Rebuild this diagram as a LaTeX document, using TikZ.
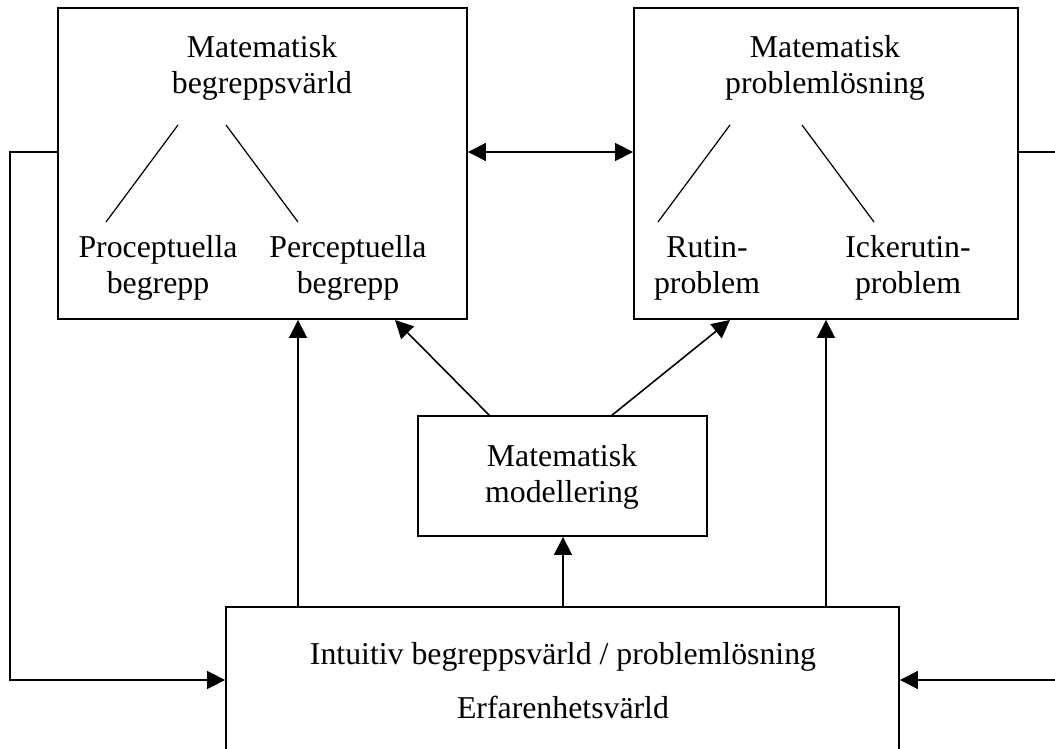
\documentclass[tikz,border=0pt]{standalone}
\usepackage{fontspec}
\setmainfont{Liberation Serif}
\usetikzlibrary{arrows.meta,positioning}

\begin{document}
\begin{tikzpicture}[x=0.02cm, y=-0.02cm, line width=0.9pt]

		\tikzstyle{box}=[rectangle, draw, line width=1.1pt, inner sep=0pt]
		\tikzstyle{txt}=[align=center, inner sep=0pt, font=\fontsize{18.1}{20.5}\selectfont]
		\tikzstyle{arr}=[-{Triangle[length=0.36cm, width=0.36cm]}]
		\tikzstyle{twoarr}=[{Triangle[length=0.36cm, width=0.36cm]}-{Triangle[length=0.36cm, width=0.36cm]}]
		\tikzstyle{sub}=[line width=0.7pt]

		\useasboundingbox (0,0) rectangle (1055,749);
		\clip (0,0) rectangle (1055,749);

		% boxes
		\node[box, minimum width=8.18cm, minimum height=6.22cm] (begr) at (262.5,163.5) {};
		\node[box, minimum width=7.68cm, minimum height=6.22cm] (probl) at (826,163.5) {};
		\node[box, minimum width=5.78cm, minimum height=2.4cm] (model) at (562.5,476) {};
		\node[box, minimum width=13.46cm, minimum height=3.86cm] (intu) at (562.5,703.5) {};

		% texts
		\node[txt] (t1) at (262,68) {Matematisk\\begreppsvärld};
		\node[txt] (t2) at (158,268) {Proceptuella\\begrepp};
		\node[txt] (t3) at (348,268) {Perceptuella\\begrepp};
		\node[txt] (t4) at (825,68) {Matematisk\\problemlösning};
		\node[txt] (t5) at (707,268) {Rutin-\\problem};
		\node[txt] (t6) at (908,268) {Ickerutin-\\problem};
		\node[txt] (t7) at (562,477) {Matematisk\\modellering};
		\node[txt] (t8) at (563,657) {Intuitiv begreppsvärld / problemlösning};
		\node[txt] (t9) at (563,707) {Erfarenhetsvärld};

		% points for the links
		\coordinate (c1) at (178,125);
		\coordinate (c2) at (106,222);
		\coordinate (c3) at (226,125);
		\coordinate (c4) at (298,222);
		\coordinate (c5) at (730,125);
		\coordinate (c6) at (658,222);
		\coordinate (c7) at (802,125);
		\coordinate (c8) at (874,222);

		\coordinate (h1) at (0,152);
		\coordinate (h2) at (0,680);
		\coordinate (fl) at (10,152);
		\coordinate (fr) at (1060,152);
		\coordinate (fr2) at (1060,680);

		\coordinate (v1) at (298,0);
		\coordinate (v2) at (563,0);
		\coordinate (v3) at (826,0);

		\coordinate (m1) at (490,416);
		\coordinate (m2) at (395,320);
		\coordinate (m3) at (611,416);
		\coordinate (m4) at (730,320);

		% inner lines
		\draw[sub] (c1) -- (c2);
		\draw[sub] (c3) -- (c4);
		\draw[sub] (c5) -- (c6);
		\draw[sub] (c7) -- (c8);

		% links
		\draw[twoarr] (begr.east |- h1) -- (probl.west |- h1);
		\draw[arr] (begr.west |- h1) -- (fl) |- (intu.west |- h2);
		\draw (probl.east |- h1) -- (fr);
		\draw[arr] (fr2) -- (intu.east |- h2);

		\draw[arr] (intu.north -| v1) -- (begr.south -| v1);
		\draw[arr] (intu.north -| v2) -- (model.south -| v2);
		\draw[arr] (intu.north -| v3) -- (probl.south -| v3);

		\draw[arr] (m1) -- (m2);
		\draw[arr] (m3) -- (m4);

\end{tikzpicture}
\end{document}
